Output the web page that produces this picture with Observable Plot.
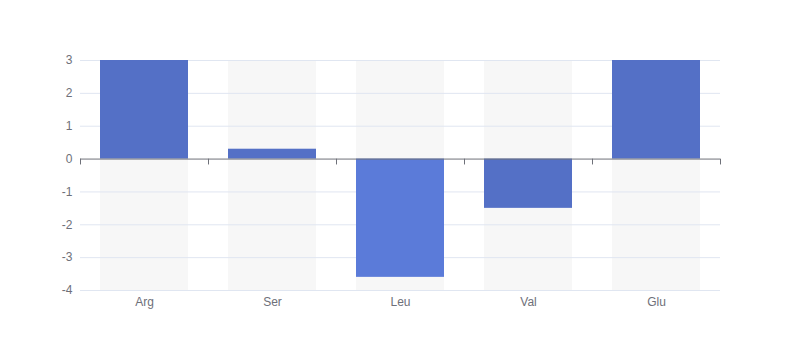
<!DOCTYPE html>
<html><head><meta charset="utf-8">
<script src="https://cdn.jsdelivr.net/npm/d3@7"></script>
<script src="https://cdn.jsdelivr.net/npm/@observablehq/plot@0.6"></script>
<style>body{margin:0;background:#fff;font-family:sans-serif}</style>
</head><body><div id="chart"></div>
<script>
const categories = ["Arg", "Ser", "Leu", "Val", "Glu"];
const values = [3, 0.3, -3.6, -1.5, 3];
const colors = ["#5470c6", "#5470c6", "#5b7bd9", "#5470c6", "#5470c6"];
const yTicks = [-4, -3, -2, -1, 0, 1, 2, 3];
const yMin = -4, yMax = 3;

const data = categories.map((c, i) => ({cat: c, i, value: values[i], color: colors[i]}));
const bounds = d3.range(categories.length + 1);
const tickShape = {draw(ctx, l) { ctx.moveTo(0, 0); ctx.lineTo(0, -l); }};

const chart = Plot.plot({
  width: 800, height: 360,
  marginLeft: 80, marginRight: 80, marginTop: 60, marginBottom: 70,
  x: {type: "linear", domain: [0, categories.length], axis: null},
  y: {domain: [yMin, yMax], axis: null},
  style: {fontFamily: "sans-serif", fontSize: "12px", color: "#6e7079", background: "#fff"},
  marks: [
    Plot.rectY(data, {x1: d => d.i, x2: d => d.i + 1, y1: yMin, y2: yMax, fill: "#f7f7f7", insetLeft: 20, insetRight: 20}),
    Plot.ruleY(yTicks.filter(t => t !== 0), {stroke: "#e0e6f1", strokeWidth: 1}),
    Plot.rectY(data, {x1: d => d.i, x2: d => d.i + 1, y1: 0, y2: d => d.value, fill: d => d.color, insetLeft: 20, insetRight: 20, clip: true}),
    Plot.ruleY([0], {stroke: "#6e7079", strokeWidth: 1}),
    Plot.vector(bounds, {x: d => d, y: 0, length: 5, rotate: 180, anchor: "start", shape: tickShape, stroke: "#6e7079", strokeWidth: 1}),
    Plot.text(yTicks, {x: 0, y: d => d, text: d => String(d), textAnchor: "end", dx: -8, fill: "#6e7079", fontSize: 12}),
    Plot.text(data, {x: d => d.i + 0.5, y: yMin, text: "cat", dy: 12, fill: "#6e7079", fontSize: 12})
  ]
});
document.getElementById("chart").append(chart);
</script></body></html>
